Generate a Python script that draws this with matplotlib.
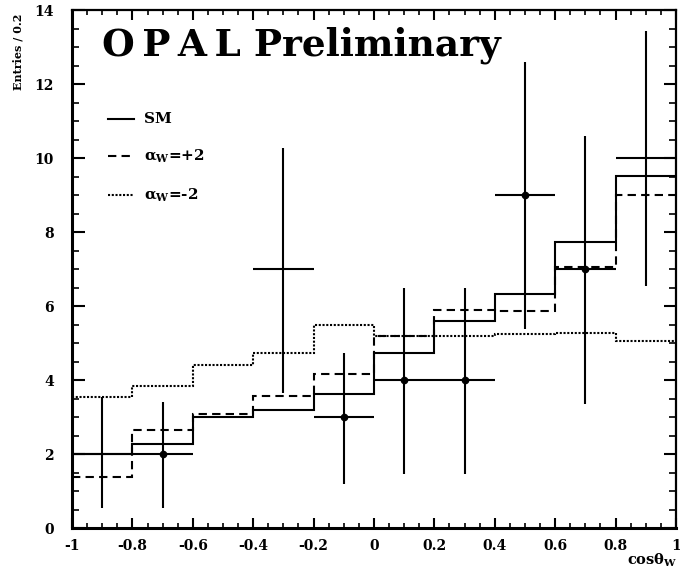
import numpy as np
import matplotlib
matplotlib.use("Agg")
from matplotlib import pyplot as plt
from matplotlib.ticker import MultipleLocator

## Data

bin_edges = [-1.0, -0.8, -0.6, -0.4, -0.2, 0.0, 0.2, 0.4, 0.6, 0.8, 1.0]

sm_counts = [2.0, 2.27, 3.0, 3.2, 3.62, 4.73, 5.6, 6.32, 7.73, 9.51]
aw_plus2 = [1.37, 2.65, 3.08, 3.57, 4.16, 5.2, 5.89, 5.86, 7.05, 9.0]
aw_minus2 = [3.54, 3.84, 4.4, 4.73, 5.5, 5.2, 5.2, 5.25, 5.28, 5.05]

data_x = [-0.9, -0.7, -0.3, -0.1, 0.1, 0.3, 0.5, 0.7, 0.9]
data_y = [2, 2, 7, 3, 4, 4, 9, 7, 10]
data_lo = [0.55, 0.55, 3.65, 1.2, 1.46, 1.46, 5.38, 3.35, 6.54]
data_hi = [3.54, 3.4, 10.27, 4.73, 6.5, 6.5, 12.6, 10.6, 13.43]
data_dot = [False, True, False, True, True, True, True, True, False]

## Style

plt.rcParams["font.family"] = ["DejaVu Serif"]
plt.rcParams["font.weight"] = "bold"
plt.rcParams["mathtext.fontset"] = "custom"
plt.rcParams["mathtext.rm"] = "DejaVu Serif:bold"
plt.rcParams["mathtext.it"] = "DejaVu Serif:bold"
plt.rcParams["mathtext.bf"] = "DejaVu Serif:bold"

fig = plt.figure(figsize=(6.8, 5.73), dpi=100)
ax = fig.add_axes([72 / 680, 1 - 528 / 573, 604 / 680, 518 / 573])

# Histograms ----------------------------------
lw = 1.5
ax.stairs(sm_counts, bin_edges, color="black", linewidth=lw, baseline=None)
ax.stairs(aw_plus2, bin_edges, color="black", linewidth=lw,
          linestyle=(0, (4, 2.5)), baseline=None)
ax.stairs(aw_minus2, bin_edges, color="black", linewidth=lw,
          linestyle=(0, (1, 0.8)), baseline=None)

# Data points with error bars ----------------------------------
xs = np.array(data_x)
ys = np.array(data_y)
yerr = np.array([ys - np.array(data_lo), np.array(data_hi) - ys])
ax.errorbar(xs, ys, yerr=yerr, xerr=0.1, fmt="none", ecolor="black",
            elinewidth=1.5, capsize=0)
dots = np.array(data_dot)
ax.plot(xs[dots], ys[dots], "o", color="black", markersize=4.5)

# Legend (drawn by hand, like the original) ----------------------------------
leg_styles = ["-", (0, (4, 2.5)), (0, (1, 0.8))]
leg_labels = ["SM", r"$\alpha_W$=+2", r"$\alpha_W$=-2"]
leg_y = [11.05, 10.05, 9.0]
for style, label, yy in zip(leg_styles, leg_labels, leg_y):
    ax.plot([-0.88, -0.795], [yy, yy], color="black", linewidth=lw,
            linestyle=style)
    ax.text(-0.76, yy, label, fontsize=11, fontweight="bold",
            va="center", ha="left")

ax.text(-0.9, 13.05, "O\u2009P\u2009A\u2009L Preliminary", fontsize=27,
        fontweight="bold", va="center", ha="left")

# Axes ----------------------------------
ax.set_xlim(-1, 1)
ax.set_ylim(0, 14)
ax.xaxis.set_minor_locator(MultipleLocator(0.05))
ax.yaxis.set_major_locator(MultipleLocator(2))
ax.yaxis.set_minor_locator(MultipleLocator(0.5))
ax.set_xticks(np.arange(-1, 1.01, 0.2))
ax.set_xticklabels(["-1", "-0.8", "-0.6", "-0.4", "-0.2", "0",
                    "0.2", "0.4", "0.6", "0.8", "1"])
ax.tick_params(axis="x", which="major", direction="in", length=7,
               width=1.5, top=True, labelsize=10, pad=8)
ax.tick_params(axis="x", which="minor", direction="in", length=3.5,
               width=1.2, top=True)
ax.tick_params(axis="y", which="major", direction="in", length=9,
               width=1.5, right=True, labelsize=10, pad=13)
ax.tick_params(axis="y", which="minor", direction="in", length=5,
               width=1.2, right=True)
for lab in ax.get_xticklabels() + ax.get_yticklabels():
    lab.set_fontweight("bold")
for side in ["left", "bottom"]:
    ax.spines[side].set_linewidth(2.2)
for side in ["top", "right"]:
    ax.spines[side].set_linewidth(1.6)

fig.text(18 / 680, 1 - 52 / 573, "Entries / 0.2", rotation=90,
         fontsize=8, fontweight="bold", ha="center", va="center")
fig.text(652 / 680, 1 - 560 / 573, r"cos$\theta_W$", fontsize=10.5,
         fontweight="bold", ha="center", va="center")

fig.savefig("out.png", dpi=100)
